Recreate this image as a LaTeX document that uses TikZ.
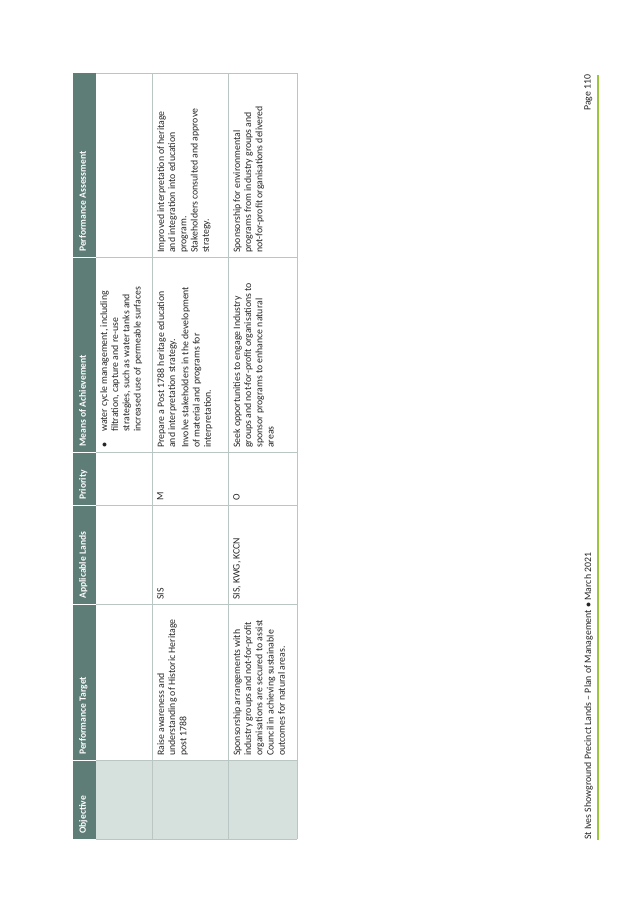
\documentclass[tikz,border=0pt]{standalone}
\usepackage{fontspec}
\setmainfont{Carlito}
\definecolor{hdr}{HTML}{5F7D77}
\definecolor{objc}{HTML}{D6E1DE}
\definecolor{grid}{HTML}{B9C6C3}
\definecolor{barg}{HTML}{9BC53D}
\begin{document}
\begin{tikzpicture}[x=1pt,y=-1pt,
  cell/.style={rotate=90,anchor=north west,align=left,inner sep=0pt,font=\fontsize{9.8}{11.2}\selectfont,text=black!85},
  head/.style={rotate=90,anchor=north west,inner sep=0pt,font=\fontsize{9.6}{10}\selectfont\bfseries,text=white},
  gl/.style={draw=grid,line width=0.8pt}]
\useasboundingbox (0,0) rectangle (638,900);
\fill[white] (0,0) rectangle (638,900);
\fill[hdr] (73,73) rectangle (96,839);
\fill[objc] (96,760) rectangle (297,839);
\foreach \x in {152,228,297} \draw[gl] (\x,73) -- (\x,839);
\draw[gl] (96,73) -- (297,73);
\draw[gl] (96,839) -- (297,839);
\foreach \y in {257,452,505,604,760} \draw[gl] (96,\y) -- (297,\y);
\foreach \y in {257,452,505,604,760} \draw[white,line width=0.8pt] (73,\y) -- (96,\y);
\node[head] (h1) at (79,834) {Objective};
\node[head] (h2) at (79,755) {Performance Target};
\node[head] (h3) at (79,599) {Applicable Lands};
\node[head] (h4) at (79,500) {Priority};
\node[head] (h5) at (79,447) {Means of Achievement};
\node[head] (h6) at (79,252) {Performance Assessment};
\node[cell] (r1m) at (100,448) {$\bullet$\hspace{11pt}water cycle management, including\\\hspace{16pt}filtration, capture and re-use\\\hspace{16pt}strategies, such as water tanks and\\\hspace{16pt}increased use of permeable surfaces};
\node[cell] (r2t) at (157,756) {Raise awareness and\\understanding of Historic Heritage\\post 1788};
\node[cell] (r2l) at (157,600) {SIS};
\node[cell] (r2p) at (157,501) {M};
\node[cell] (r2m) at (157,448) {Prepare a Post 1788 heritage education\\and interpretation strategy.\\[2pt]Involve stakeholders in the development\\of material and programs for\\interpretation.};
\node[cell] (r2a) at (157,253) {Improved interpretation of heritage\\and integration into education\\program.\\Stakeholders consulted and approve\\strategy.};
\node[cell] (r3t) at (233,756) {Sponsorship arrangements with\\industry groups and not-for-profit\\organisations are secured to assist\\Council in achieving sustainable\\outcomes for natural areas.};
\node[cell] (r3l) at (233,600) {SIS, KWG, KCCN};
\node[cell] (r3p) at (233,501) {O};
\node[cell] (r3m) at (233,448) {Seek opportunities to engage Industry\\groups and not-for-profit organisations to\\sponsor programs to enhance natural\\areas};
\node[cell] (r3a) at (233,253) {Sponsorship for environmental\\programs from industry groups and\\not-for-profit organisations delivered};
\draw[barg,line width=2.5pt] (598,75) -- (598,840);
\node[cell,font=\fontsize{9.8}{10}\selectfont] (ft) at (584,840) {St Ives Showground Precinct Lands -- Plan of Management $\bullet$ March 2021};
\node[cell,font=\fontsize{9.8}{10}\selectfont] (pg) at (584,111) {Page 110};
\end{tikzpicture}
\end{document}
